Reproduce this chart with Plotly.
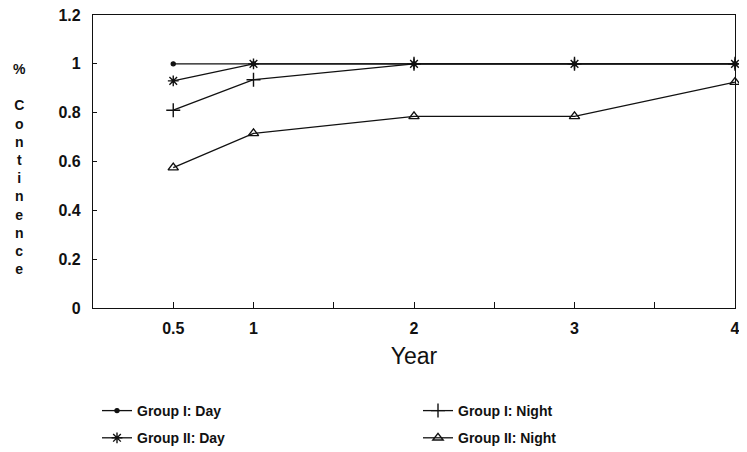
import plotly.graph_objects as go

years = [0.5, 1, 2, 3, 4]
group1_day = [1.0, 1.0, 1.0, 1.0, 1.0]
group2_day = [0.93, 1.0, 1.0, 1.0, 1.0]
group1_night = [0.81, 0.935, 1.0, 1.0, 1.0]
group2_night = [0.575, 0.715, 0.785, 0.785, 0.925]

x_tickvals = [0.5, 1, 2, 3, 4]
x_ticktext = ["0.5", "1", "2", "3", "4"]
y_tickvals = [0, 0.2, 0.4, 0.6, 0.8, 1.0, 1.2]
y_ticktext = ["0", "0.2", "0.4", "0.6", "0.8", "1", "1.2"]

FONT = "Liberation Sans, Arial, sans-serif"
BLACK = "#111111"

W, H = 739, 444  # page body has an 8px margin

fig = go.Figure()

def add(name, y, symbol, size, legend, group):
    fig.add_trace(go.Scatter(
        x=years, y=y, name=name, mode="lines+markers",
        line=dict(color=BLACK, width=1.3),
        marker=dict(symbol=symbol, size=size, color=BLACK,
                    line=dict(color=BLACK, width=1.4)),
        cliponaxis=False, legend=legend, legendgroup=group,
    ))

add("Group I: Day", group1_day, "circle", 4, "legend", "a")
add("Group II: Day", group2_day, "asterisk-open", 9, "legend", "b")
add("Group I: Night", group1_night, "cross-thin-open", 10, "legend2", "c")
add("Group II: Night", group2_night, "triangle-up-open", 9, "legend2", "d")

legend_style = dict(
    orientation="v", yanchor="top", xanchor="left",
    xref="container", yref="container",
    font=dict(family=FONT, size=14, color=BLACK, weight="bold"),
    bgcolor="rgba(0,0,0,0)", tracegroupgap=6, borderwidth=0,
)

fig.update_layout(
    width=W, height=H,
    margin=dict(l=85, r=12, t=7, b=144, autoexpand=False),
    paper_bgcolor="white", plot_bgcolor="white",
    font=dict(family=FONT, color=BLACK),
    showlegend=True,
    legend=dict(x=89 / W, y=1 - 387 / H, **legend_style),
    legend2=dict(x=410 / W, y=1 - 387 / H, **legend_style),
    xaxis=dict(
        range=[0, 4], tickmode="array", tickvals=x_tickvals, ticktext=x_ticktext,
        ticks="inside", ticklen=6, tickcolor=BLACK, tickwidth=1.2,
        minor=dict(dtick=0.5, tick0=0, ticks="inside", ticklen=6, tickcolor=BLACK, tickwidth=1.2),
        showgrid=False, zeroline=False, showline=True, linecolor=BLACK, linewidth=1.3, mirror=True,
        tickfont=dict(family=FONT, size=16, color=BLACK, weight="bold"),
        ticklabelstandoff=6, automargin=False, ticklabeloverflow="allow",
        title=dict(text="Year", font=dict(family=FONT, size=23, color=BLACK), standoff=11),
    ),
    yaxis=dict(
        range=[0, 1.2], tickmode="array", tickvals=y_tickvals, ticktext=y_ticktext,
        ticks="inside", ticklen=4, tickcolor=BLACK, tickwidth=1.2,
        showgrid=False, zeroline=False, showline=True, linecolor=BLACK, linewidth=1.3, mirror=True,
        tickfont=dict(family=FONT, size=16, color=BLACK, weight="bold"),
        ticklabelstandoff=8, automargin=False, ticklabeloverflow="allow",
    ),
    annotations=[dict(
        text="%<br><br>C<br>o<br>n<br>t<br>i<br>n<br>e<br>n<br>c<br>e",
        xref="paper", yref="paper", x=-0.114, y=0.476,
        xanchor="center", yanchor="middle", showarrow=False,
        font=dict(family=FONT, size=14, color=BLACK, weight="bold"),
    )],
)

fig.write_html("out.html")
